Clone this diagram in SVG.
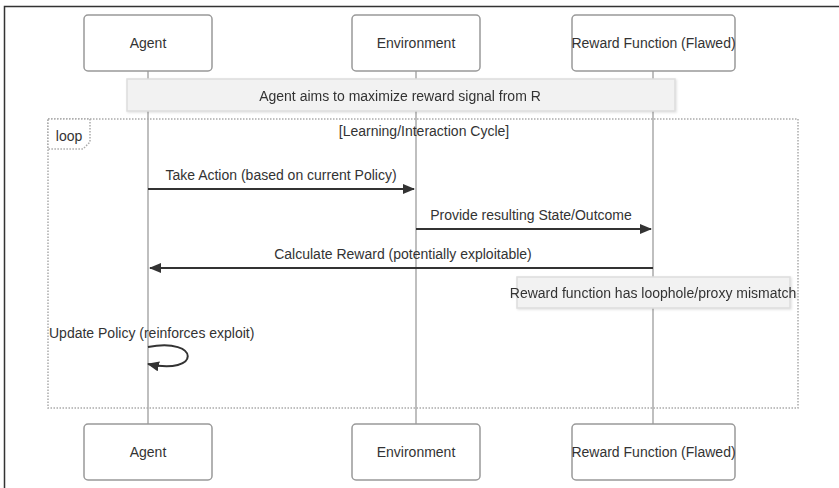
<svg xmlns="http://www.w3.org/2000/svg" width="839" height="488" viewBox="0 0 839 488">
  <style>
    text { font-family: "Liberation Sans", Arial, sans-serif; font-size: 14px; fill: #333; }
    .actor { fill: #fff; stroke: #999; stroke-width: 1.5; }
    .life { stroke: #aaa; stroke-width: 1.5; }
    .note { fill: #f2f2f2; stroke: #ddd; stroke-width: 1.5; }
    .msg { stroke: #333; stroke-width: 2; fill: none; }
    .loop { fill: none; stroke: #aaa; stroke-width: 1.5; stroke-dasharray: 1.5 1.5; }
    .mid { text-anchor: middle; dominant-baseline: central; }
  </style>
  <defs>
    <marker id="arrow" viewBox="0 0 12 10" refX="11" refY="5" markerWidth="12" markerHeight="10" markerUnits="userSpaceOnUse" orient="auto">
      <path d="M0,0 L12,5 L0,10 z" fill="#333"/>
    </marker>
    <filter id="shadow" x="-5%" y="-20%" width="110%" height="150%">
      <feDropShadow dx="1" dy="1" stdDeviation="1" flood-color="#000" flood-opacity="0.12"/>
    </filter>
  </defs>

  <rect width="839" height="488" fill="#fff"/>
  <!-- outer frame -->
  <path d="M4.5,488 L4.5,6.5 L839,6.5" fill="none" stroke="#333" stroke-width="1.5"/>

  <!-- lifelines -->
  <g id="lifelines">
    <line class="life" x1="148" y1="71" x2="148" y2="424"/>
    <line class="life" x1="416" y1="71" x2="416" y2="424"/>
    <line class="life" x1="653" y1="71" x2="653" y2="424"/>
  </g>

  <!-- participants, top -->
  <g id="agent-top">
    <rect class="actor" x="84" y="15" width="128" height="56" rx="4"/>
    <text class="mid" x="148" y="43">Agent</text>
  </g>
  <g id="environment-top">
    <rect class="actor" x="352" y="15" width="128" height="56" rx="4"/>
    <text class="mid" x="416" y="43">Environment</text>
  </g>
  <g id="reward-top">
    <rect class="actor" x="572" y="15" width="163" height="56" rx="4"/>
    <text class="mid" x="653.5" y="43">Reward Function (Flawed)</text>
  </g>

  <!-- note over all participants -->
  <g id="note-goal" filter="url(#shadow)">
    <rect class="note" x="127" y="79" width="548" height="32"/>
    <text class="mid" x="400" y="96">Agent aims to maximize reward signal from R</text>
  </g>

  <!-- loop frame -->
  <g id="loop">
    <rect class="loop" x="48" y="119" width="750" height="289"/>
    <polygon points="48,119 90,119 90,142 83,149 48,149" fill="#fff" stroke="#aaa" stroke-width="1.5" stroke-dasharray="1.5 1.5"/>
    <text class="mid" x="69" y="136">loop</text>
    <text class="mid" x="424" y="131">[Learning/Interaction Cycle]</text>
  </g>

  <!-- messages -->
  <g id="connectors">
    <line class="msg" x1="148" y1="189" x2="414" y2="189" marker-end="url(#arrow)"/>
    <line class="msg" x1="416" y1="229" x2="651" y2="229" marker-end="url(#arrow)"/>
    <line class="msg" x1="653" y1="268" x2="150" y2="268" marker-end="url(#arrow)"/>
    <path class="msg" d="M148,347 C201,337 201,376 148,364" marker-end="url(#arrow)"/>
  </g>
  <g id="message-labels">
    <text class="mid" x="281" y="175">Take Action (based on current Policy)</text>
    <text class="mid" x="531" y="215">Provide resulting State/Outcome</text>
    <text class="mid" x="403" y="254">Calculate Reward (potentially exploitable)</text>
    <text x="49" y="338">Update Policy (reinforces exploit)</text>
  </g>

  <!-- note over reward function -->
  <g id="note-loophole" filter="url(#shadow)">
    <rect class="note" x="517" y="277" width="273" height="31"/>
    <text class="mid" x="653" y="293">Reward function has loophole/proxy mismatch</text>
  </g>

  <!-- participants, bottom -->
  <g id="agent-bottom">
    <rect class="actor" x="84" y="424" width="128" height="56" rx="4"/>
    <text class="mid" x="148" y="452">Agent</text>
  </g>
  <g id="environment-bottom">
    <rect class="actor" x="352" y="424" width="128" height="56" rx="4"/>
    <text class="mid" x="416" y="452">Environment</text>
  </g>
  <g id="reward-bottom">
    <rect class="actor" x="572" y="424" width="163" height="56" rx="4"/>
    <text class="mid" x="653.5" y="452">Reward Function (Flawed)</text>
  </g>
</svg>
